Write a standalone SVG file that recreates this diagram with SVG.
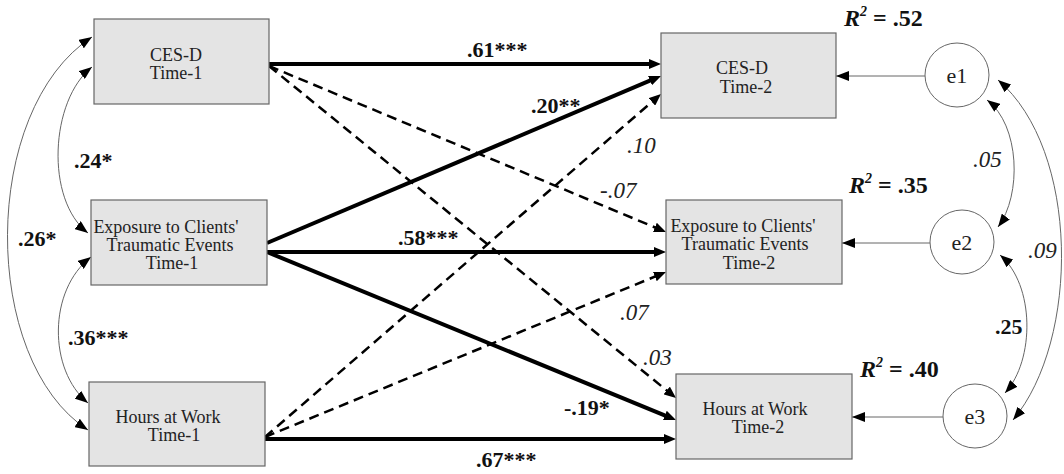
<svg xmlns="http://www.w3.org/2000/svg" width="1064" height="474" viewBox="0 0 1064 474">
<style>
.box{fill:#e4e4e4;stroke:#666;stroke-width:1.2}
.circ{fill:#fff;stroke:#666;stroke-width:1}
text{font-family:"Liberation Serif","DejaVu Serif","Times New Roman",Times,serif}
.t{font-size:18px;fill:#222;text-anchor:middle}
.ce{font-size:22px;fill:#222;text-anchor:middle}
.b{font-size:22px;font-weight:bold;fill:#111}
.r{font-size:24px;font-weight:bold;fill:#111}
.i{font-size:23px;font-style:italic;fill:#222}
.thick{stroke:#000;stroke-width:4;fill:none;marker-end:url(#ah)}
.dash{stroke:#000;stroke-width:2.5;fill:none;stroke-dasharray:10 6;marker-end:url(#ah)}
.thin{stroke:#666;stroke-width:1;fill:none;marker-end:url(#at)}
.cov{stroke:#666;stroke-width:1;fill:none;marker-start:url(#at);marker-end:url(#at)}
</style>
<defs>
<marker id="ah" viewBox="0 0 12 10" refX="5" refY="5" markerWidth="12" markerHeight="10" markerUnits="userSpaceOnUse" orient="auto"><path d="M0,0 L12,5 L0,10 z" fill="#000"/></marker>
<marker id="at" viewBox="0 0 13 10" refX="13" refY="5" markerWidth="13" markerHeight="10" markerUnits="userSpaceOnUse" orient="auto-start-reverse"><path d="M0,0 L13,5 L0,10 z" fill="#000"/></marker>
</defs>
<rect width="1064" height="474" fill="#fff"/>
<g id="connectors">
<line class="thick" x1="269" y1="64" x2="654" y2="64"/>
<line class="thick" x1="267" y1="243" x2="654.6" y2="78.7"/>
<line class="thick" x1="267" y1="252" x2="659" y2="252"/>
<line class="thick" x1="267" y1="252" x2="669.5" y2="417.3"/>
<line class="thick" x1="265" y1="439" x2="669" y2="439"/>
<line class="dash" x1="269" y1="66" x2="659.5" y2="229.3"/>
<line class="dash" x1="269" y1="66" x2="670.6" y2="393.6"/>
<line class="dash" x1="265" y1="437" x2="655.7" y2="98.6"/>
<line class="dash" x1="265" y1="437" x2="659.5" y2="274.7"/>
<line class="thin" x1="925" y1="76" x2="836" y2="76"/>
<line class="thin" x1="930" y1="243" x2="842" y2="243"/>
<line class="thin" x1="943" y1="417" x2="852" y2="417"/>
<path class="cov" d="M92,37 C-20,110 -20,360 88,430"/>
<path class="cov" d="M92,67 C50,100 45,200 88,233"/>
<path class="cov" d="M91,257 C48,290 48,370 88,403"/>
<path class="cov" d="M987,100 C1020,125 1022,195 998,227"/>
<path class="cov" d="M1000,255 C1035,285 1035,360 1005,393"/>
<path class="cov" d="M998,80 C1080,150 1080,340 1013,420"/>
<text class="b" x="467" y="57">.61***</text>
<text class="b" x="531" y="113">.20**</text>
<text class="b" x="398" y="245">.58***</text>
<text class="b" x="564" y="415">-.19*</text>
<text class="b" x="476" y="467">.67***</text>
<text class="i" x="627" y="153">.10</text>
<text class="i" x="600" y="198">-.07</text>
<text class="i" x="620" y="320">.07</text>
<text class="i" x="643" y="365">.03</text>
<text class="b" x="74" y="168">.24*</text>
<text class="b" x="18" y="246">.26*</text>
<text class="b" x="68" y="345">.36***</text>
<text class="i" x="973" y="167">.05</text>
<text class="b" x="995" y="334">.25</text>
<text class="i" x="1028" y="258">.09</text>
</g>
<g id="ces1"><rect class="box" x="94" y="19" width="175" height="85"/><text class="t" x="176" y="61">CES-D</text><text class="t" x="176" y="79">Time-1</text></g>
<g id="exp1"><rect class="box" x="91" y="200" width="176" height="85"/><text class="t" x="166" y="233">Exposure to Clients'</text><text class="t" x="170" y="251">Traumatic Events</text><text class="t" x="172" y="269">Time-1</text></g>
<g id="hrs1"><rect class="box" x="89" y="382" width="176" height="84"/><text class="t" x="168" y="423">Hours at Work</text><text class="t" x="174" y="441">Time-1</text></g>
<g id="ces2"><rect class="box" x="661" y="33" width="175" height="85"/><text class="t" x="742" y="74">CES-D</text><text class="t" x="746" y="93">Time-2</text></g>
<g id="exp2"><rect class="box" x="666" y="200" width="176" height="84"/><text class="t" x="743" y="232">Exposure to Clients'</text><text class="t" x="745" y="250">Traumatic Events</text><text class="t" x="749" y="269">Time-2</text></g>
<g id="hrs2"><rect class="box" x="676" y="374" width="176" height="85"/><text class="t" x="755" y="415">Hours at Work</text><text class="t" x="758" y="433">Time-2</text></g>
<g id="e1"><circle class="circ" cx="957" cy="75" r="32"/><text class="ce" x="957" y="83">e1</text></g>
<g id="e2"><circle class="circ" cx="962" cy="242" r="32"/><text class="ce" x="962" y="250">e2</text></g>
<g id="e3"><circle class="circ" cx="975" cy="416" r="32"/><text class="ce" x="975" y="424">e3</text></g>
<g id="r2">
<text class="r" x="844" y="26"><tspan font-style="italic">R</tspan><tspan font-style="italic" font-size="14" dy="-10">2</tspan><tspan dy="10"> = .52</tspan></text>
<text class="r" x="849" y="193"><tspan font-style="italic">R</tspan><tspan font-style="italic" font-size="14" dy="-10">2</tspan><tspan dy="10"> = .35</tspan></text>
<text class="r" x="860" y="377"><tspan font-style="italic">R</tspan><tspan font-style="italic" font-size="14" dy="-10">2</tspan><tspan dy="10"> = .40</tspan></text>
</g>
</svg>
